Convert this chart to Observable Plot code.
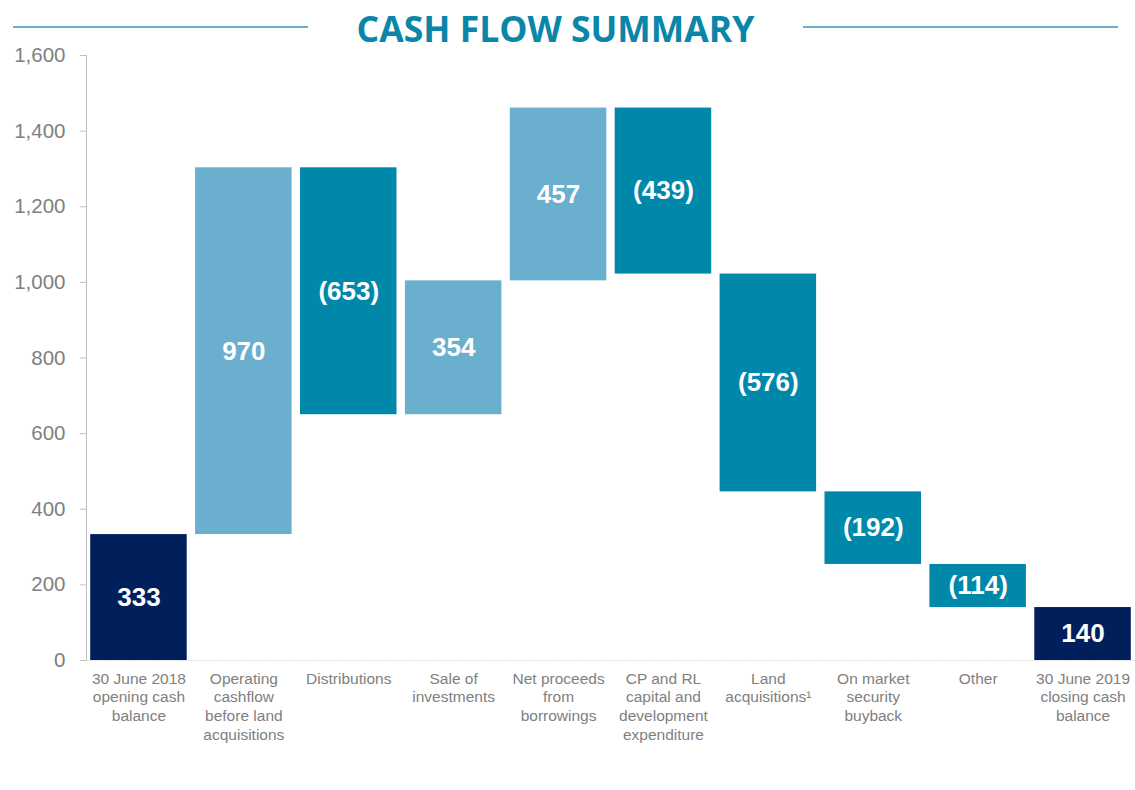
<!DOCTYPE html>
<html>
<head>
<meta charset="utf-8">
<script src="https://cdn.jsdelivr.net/npm/d3@7"></script>
<script src="https://cdn.jsdelivr.net/npm/@observablehq/plot@0.6"></script>
<style>
  body { margin: 0; background: white; }
  #wrap { width: 1135px; }
  #title { position: relative; height: 48px; width: 1135px; }
  #title .line { position: absolute; top: 26px; height: 2px; background: #6aafce; }
  #title .txt { position: absolute; left: -12px; width: 1135px; top: 4px; text-align: center;
    font-family: "Open Sans", sans-serif; font-weight: 700; font-size: 35.5px; color: #0a86a9; line-height: 48px; }
  svg { overflow: visible; }
</style>
</head>
<body>
<div id="wrap">
  <div id="title">
    <div class="line" style="left:13px;width:295px"></div>
    <div class="line" style="left:803px;width:315px"></div>
    <div class="txt">CASH FLOW SUMMARY</div>
  </div>
  <div id="chart"></div>
</div>
<script>
const categories = [
  "30 June 2018\nopening cash\nbalance",
  "Operating\ncashflow\nbefore land\nacquisitions",
  "Distributions",
  "Sale of\ninvestments",
  "Net proceeds\nfrom\nborrowings",
  "CP and RL\ncapital and\ndevelopment\nexpenditure",
  "Land\nacquisitions\u00b9",
  "On market\nsecurity\nbuyback",
  "Other",
  "30 June 2019\nclosing cash\nbalance"
];
const values = [333, 970, -653, 354, 457, -439, -576, -192, -114, 140];
const kinds = ["total", "up", "down", "up", "up", "down", "down", "down", "down", "total"];
const yTicks = [0, 200, 400, 600, 800, 1000, 1200, 1400, 1600];

const colors = { total: "#001f5b", up: "#6aafce", down: "#0088ab" };

let running = 0;
const rows = categories.map((c, i) => {
  const v = values[i];
  let lo, hi;
  if (kinds[i] === "total") { lo = 0; hi = v; running = v; }
  else { const start = running; running = start + v; lo = Math.min(start, running); hi = Math.max(start, running); }
  return {
    cat: c, y1: lo, y2: hi, mid: (lo + hi) / 2, kind: kinds[i],
    label: v < 0 ? `(${Math.abs(v)})` : `${v}`
  };
});

const chart = Plot.plot({
  width: 1135,
  height: 742,
  marginTop: 7,
  marginBottom: 130,
  marginLeft: 86,
  marginRight: 0,
  style: { fontFamily: "'Liberation Sans', Arial, sans-serif", background: "transparent", overflow: "visible" },
  x: { domain: categories, paddingInner: 0.08, paddingOuter: 0.04, round: false, label: null },
  y: { domain: [0, 1600], label: null },
  marks: [
    Plot.frame({ anchor: "left", stroke: "#bfbfbf", strokeWidth: 1 }),
    Plot.ruleY([0], { stroke: "#d0d0d0", strokeDasharray: "1.5,1.5" }),
    Plot.barY(rows, { x: "cat", y1: "y1", y2: "y2", fill: d => colors[d.kind], inset: 0 }),
    Plot.text(rows, { x: "cat", y: "mid", text: "label", fill: "white", fontSize: 26, fontWeight: "bold" }),
    Plot.axisY({ ticks: yTicks, tickFormat: d3.format(","), tickSize: 6, tickPadding: 15, fontSize: 20.5, color: "#808080", stroke: "#bfbfbf" }),
    Plot.axisX({ tickSize: 0, tickPadding: 10, fontSize: 15.5, lineHeight: 1.2, color: "#808080", lineAnchor: "top" })
  ]
});
chart.querySelectorAll("g[aria-label='y-axis tick label'] text, g[aria-label='x-axis tick label'] text").forEach(t => t.setAttribute("fill", "#808080"));
document.getElementById("chart").appendChild(chart);
</script>
</body>
</html>
